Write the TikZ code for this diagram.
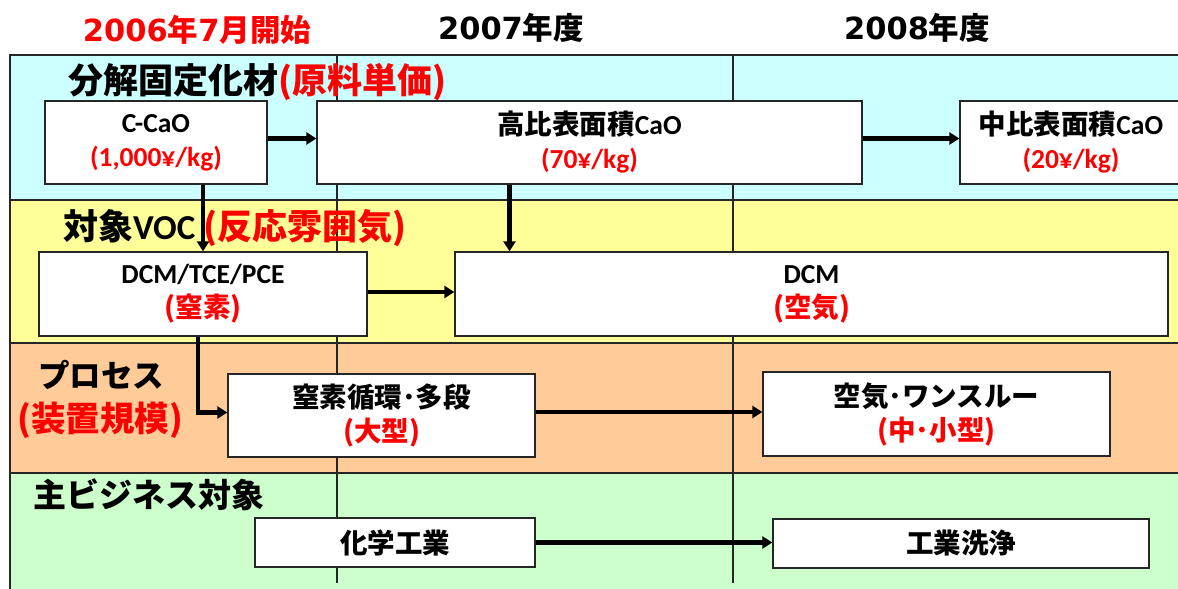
\documentclass[tikz,border=0pt]{standalone}
\usepackage{fontspec}
\setmainfont{Carlito}
\newfontfamily\jp{Noto Sans CJK JP}
\newfontfamily\dv{DejaVu Sans}
\usetikzlibrary{arrows.meta}
\definecolor{bandblue}{HTML}{CCFFFF}
\definecolor{bandyellow}{HTML}{FFFF99}
\definecolor{bandorange}{HTML}{FFCC99}
\definecolor{bandgreen}{HTML}{CCFFCC}
\definecolor{rd}{HTML}{FF0000}
\newcommand\R[1]{\textcolor{rd}{#1}}
\tikzset{
  box/.style={draw=black!85, line width=1.3pt, fill=white, inner sep=0pt, align=center,
    font=\bfseries\fontsize{27.5}{34}\selectfont},
  arr/.style={line width=4.6pt, -{Triangle[length=10pt,width=12pt]}},
  lbl/.style={anchor=west, inner sep=0pt, font=\jp\bfseries\fontsize{35}{38}\selectfont},
  hdr/.style={inner sep=0pt, font=\jp\bfseries\fontsize{30.5}{32}\selectfont},
  sepline/.style={line width=1.4pt, draw=black!85},
}
\begin{document}
\begin{tikzpicture}[x=1pt,y=-1pt]
\useasboundingbox (0,0) rectangle (1178,589);
% bands
\fill[bandblue] (10,55) rectangle (1178,200);
\fill[bandyellow] (10,200) rectangle (1178,343);
\fill[bandorange] (10,343) rectangle (1178,473);
\fill[bandgreen] (10,473) rectangle (1178,589);
\draw[sepline] (1178,55) -- (10,55) -- (10,589);
\draw[sepline] (10,200) -- (1178,200);
\draw[sepline] (10,343) -- (1178,343);
\draw[sepline] (10,473) -- (1178,473);
\draw[sepline] (337,55) -- (337,583);
\draw[sepline] (733,55) -- (733,583);
% headers
\node[hdr, text=rd] (t2006) at (197,30) {{\dv 2006}年{\dv 7}月開始};
\node[hdr] (t2007) at (511,28) {{\dv 2007}年度};
\node[hdr] (t2008) at (917,28) {{\dv 2008}年度};
% row labels
\node[lbl] (l1) at (68,82) {分解固定化材\R{(原料単価)}};
\node[lbl] (l2) at (63,228) {対象{\rmfamily VOC} \R{(反応雰囲気)}};
\node[lbl, font=\jp\bfseries\fontsize{31.5}{36}\selectfont] (l3) at (38,375) {プロセス};
\node[lbl, font=\jp\bfseries\fontsize{34.5}{38}\selectfont] (l4) at (17,420) {\R{(装置規模)}};
\node[lbl, font=\jp\bfseries\fontsize{33}{36}\selectfont] (l5) at (33,495) {主ビジネス対象};
% boxes
\node[box, minimum width=222pt, minimum height=83pt] (ccao) at (156,142.5) {C-CaO\\\R{(1,000¥/kg)}};
\node[box, minimum width=545pt, minimum height=83pt] (kohi) at (589.5,142.5) {{\jp 高比表面積}CaO\\\R{(70¥/kg)}};
\node[box, minimum width=222pt, minimum height=83pt] (chuhi) at (1071,142.5) {{\jp 中比表面積}CaO\\\R{(20¥/kg)}};
\node[box, minimum width=328pt, minimum height=84pt] (dcmt) at (203,294) {DCM/TCE/PCE\\\R{\jp (窒素)}};
\node[box, minimum width=713pt, minimum height=84pt] (dcm) at (811.5,294) {DCM\\\R{\jp (空気)}};
\node[box, minimum width=307pt, minimum height=83pt] (chisso) at (381.5,415.5) {\jp 窒素循環･多段\\\R{\jp (大型)}};
\node[box, minimum width=347pt, minimum height=84pt] (kuki) at (936.5,414) {\jp 空気･ワンスルー\\\R{\jp (中･小型)}};
\node[box, minimum width=280pt, minimum height=49pt] (kagaku) at (395,542.5) {\jp 化学工業};
\node[box, minimum width=376pt, minimum height=49pt] (senjo) at (961,543.5) {\jp 工業洗浄};
% arrows
\draw[arr] ([yshift=4pt]ccao.east) -- ([yshift=4pt]ccao.east -| kohi.west);
\draw[arr] ([yshift=4pt]kohi.east) -- ([yshift=4pt]kohi.east -| chuhi.west);
\draw[arr] (dcmt.north |- ccao.south) -- (dcmt.north);
\draw[arr] ([xshift=-80pt]kohi.south) -- ([xshift=-80pt]kohi.south |- dcm.north);
\draw[arr] ([yshift=2pt]dcmt.east) -- ([yshift=2pt]dcmt.east -| dcm.west);
\draw[arr] ([xshift=-5pt]dcmt.south) |- ([yshift=3pt]chisso.west);
\draw[arr] ([yshift=3.5pt]chisso.east) -- ([yshift=3.5pt]chisso.east -| kuki.west);
\draw[arr] (kagaku.east) -- (kagaku.east -| senjo.west);
\end{tikzpicture}
\end{document}
